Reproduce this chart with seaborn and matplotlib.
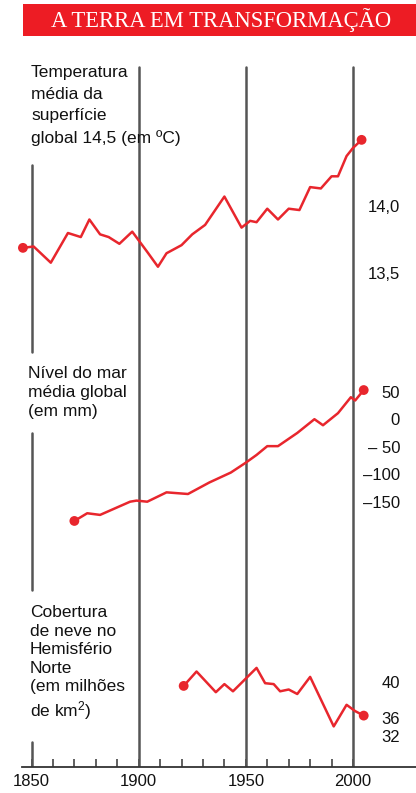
import numpy as np
import pandas as pd
import matplotlib
matplotlib.use("Agg")
import matplotlib.pyplot as plt
from matplotlib.patches import Rectangle
from matplotlib.ticker import FixedLocator, FixedFormatter
import seaborn as sns

# ---------------- data ----------------
title = "A TERRA EM TRANSFORMAÇÃO"

temp_label = "Temperatura\nmédia da\nsuperfície\nglobal 14,5 (em ºC)"
temp_years = [1846, 1851, 1859, 1867, 1873, 1877, 1882, 1886, 1891, 1897, 1904,
              1909, 1913, 1920, 1925, 1931, 1940, 1948, 1952, 1955, 1960, 1965,
              1970, 1975, 1980, 1985, 1990, 1993, 1997, 2000, 2004]
temp_vals = [13.69, 13.70, 13.58, 13.80, 13.77, 13.90, 13.79, 13.77, 13.72, 13.81, 13.66,
             13.55, 13.65, 13.71, 13.79, 13.86, 14.07, 13.84, 13.89, 13.88, 13.98, 13.90,
             13.98, 13.97, 14.14, 14.13, 14.22, 14.22, 14.37, 14.43, 14.49]
temp_ticks = [14.0, 13.5]
temp_ticklabels = ["14,0", "13,5"]

sea_label = "Nível do mar\nmédia global\n(em mm)"
sea_years = [1870, 1876, 1882, 1896, 1899, 1904, 1913, 1923, 1933, 1943, 1950,
             1955, 1960, 1965, 1974, 1982, 1986, 1993, 1999, 2001, 2005]
sea_vals = [-185, -171, -174, -150, -148, -150, -133, -136, -115, -97, -79,
            -65, -49, -49, -25, 0, -11, 11, 40, 34, 53]
sea_ticks = [50, 0, -50, -100, -150]
sea_ticklabels = ["50", "0", "– 50", "–100", "–150"]

snow_label = "Cobertura\nde neve no\nHemisfério\nNorte\n(em milhões\nde km$^{2}$)"
snow_years = [1921, 1927, 1936, 1940, 1944, 1955, 1959, 1963, 1966, 1970, 1974,
              1980, 1991, 1997, 2001, 2005]
snow_vals = [39.6, 41.2, 38.9, 39.8, 39.0, 41.6, 39.9, 39.8, 39.0, 39.2, 38.7,
             40.6, 35.1, 37.5, 36.8, 36.3]
snow_ticks = [40, 36, 34]
snow_ticklabels = ["40", "36", "32"]

x_major = [1850, 1900, 1950, 2000]
x_minor = [1860, 1870, 1880, 1890, 1910, 1920, 1930, 1940, 1960, 1970, 1980, 1990]

# ---------------- style ----------------
sns.set_theme(style="white")
plt.rcParams["font.family"] = ["Liberation Sans", "DejaVu Sans"]
plt.rcParams["mathtext.fontset"] = "custom"
plt.rcParams["mathtext.rm"] = "Liberation Sans"
plt.rcParams["mathtext.it"] = "Liberation Sans"

RED = "#e8262d"
GRAY = "#555555"
W, H = 416, 793

fig = plt.figure(figsize=(W / 100, H / 100), dpi=100)

# axes rect in pixels
px_left, px_right, px_top, px_bot = 22, 416, 65, 767
rect = [px_left / W, (H - px_bot) / H, (px_right - px_left) / W, (px_bot - px_top) / H]

# x mapping: 1850 -> 31.5 px, 2000 -> 353 px
ppy = (353 - 31.5) / 150.0
xlim = (1850 - (31.5 - px_left) / ppy, 2000 + (px_right - 353) / ppy)


def ylim_from(v1, p1, v2, p2):
    s = (p2 - p1) / (v1 - v2)
    return (v1 - (px_bot - p1) / s, v1 + (p1 - px_top) / s)


ax0 = fig.add_axes(rect)
ax0.set_xlim(*xlim)
ax0.set_ylim(0, 1)
for s in ["top", "left", "right"]:
    ax0.spines[s].set_visible(False)
ax0.spines["bottom"].set_color("#333333")
ax0.spines["bottom"].set_linewidth(1.3)
ax0.set_yticks([])
ax0.set_xticks(x_major)
ax0.set_xticklabels([str(v) for v in x_major], fontsize=12, color="#111111")
ax0.set_xticks(x_minor, minor=True)
ax0.tick_params(axis="x", which="both", direction="in", length=6, width=1.2,
                color="#444444", pad=5, bottom=True)
ax0.patch.set_alpha(0)

# vertical reference lines
for yr in x_major[1:]:
    ax0.axvline(yr, ymin=0, ymax=0.997, color=GRAY, lw=1.8, zorder=1)


def frac(y):
    return (px_bot - y) / (px_bot - px_top)


for (ya, yb) in [(165, 352), (433, 590), (742, 767)]:
    ax0.axvline(1850, ymin=frac(yb), ymax=frac(ya), color=GRAY, lw=1.8, zorder=1)


def panel(years, vals, ylim, ticks, ticklabels):
    ax = fig.add_axes(rect)
    ax.set_xlim(*xlim)
    ax.set_ylim(*ylim)
    ax.patch.set_alpha(0)
    for s in ax.spines.values():
        s.set_visible(False)
    ax.set_xticks([])
    df = pd.DataFrame({"year": years, "val": vals})
    sns.lineplot(data=df, x="year", y="val", ax=ax, color=RED, lw=1.8, zorder=3)
    ends = df.iloc[[0, -1]]
    sns.scatterplot(data=ends, x="year", y="val", ax=ax, color=RED, s=50,
                    edgecolor="none", zorder=4, clip_on=False)
    ax.set_xlabel("")
    ax.set_ylabel("")
    ax.yaxis.set_major_locator(FixedLocator(ticks))
    ax.yaxis.set_major_formatter(FixedFormatter(ticklabels))
    ax.tick_params(axis="y", left=False, labelleft=False, right=False,
                   labelright=True, length=0, pad=-11.5, labelsize=12,
                   labelcolor="#111111")
    for lab in ax.get_yticklabels():
        lab.set_horizontalalignment("right")
    return ax


panel(temp_years, temp_vals, ylim_from(14.0, 206, 13.5, 273.5), temp_ticks, temp_ticklabels)
panel(sea_years, sea_vals, ylim_from(50, 391.7, -150, 501.7), sea_ticks, sea_ticklabels)
panel(snow_years, snow_vals, ylim_from(40, 682.3, 36, 718.3), snow_ticks, snow_ticklabels)

# panel labels
fig.text(31 / W, 1 - 65 / H, temp_label, ha="left", va="top", fontsize=12.5,
         linespacing=1.55, color="#111111")
fig.text(28 / W, 1 - 366 / H, sea_label, ha="left", va="top", fontsize=12.5,
         linespacing=1.32, color="#111111")
fig.text(30 / W, 1 - 605 / H, snow_label, ha="left", va="top", fontsize=12.5,
         linespacing=1.3, color="#111111")

# title banner
fig.patches.append(Rectangle((23 / W, 1 - 36 / H), (416 - 23) / W, 32 / H,
                             transform=fig.transFigure, facecolor="#ed1c24",
                             edgecolor="none", zorder=0))
fig.text(221 / W, 1 - 20.5 / H, title, ha="center", va="center", fontsize=16.3,
         color="white", family=["Liberation Serif", "DejaVu Serif"])

fig.savefig("out.png", dpi=100)
